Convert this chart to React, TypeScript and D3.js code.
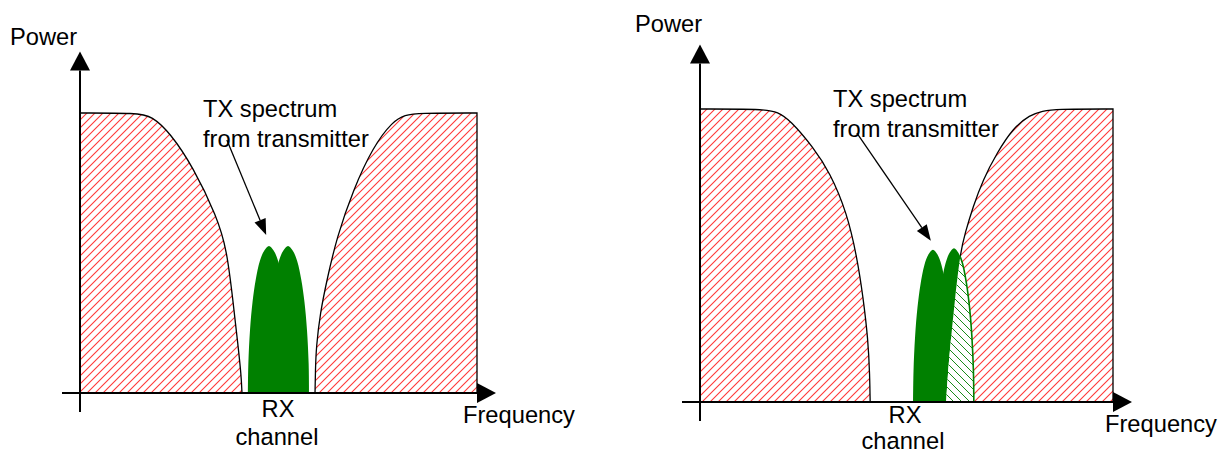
import React from "react";
import * as d3 from "d3";

type Pt = [number, number]; // [frequency, power], both 0..100 inside a panel

const W = 1223;
const H = 453;
const FONT = "'Liberation Sans', Arial, sans-serif";

// lobe outline, as fraction of half width / fraction of peak height
const lobeShape: Pt[] = [
  [-1, 0], [-0.98, 0.2], [-0.9, 0.43], [-0.78, 0.62], [-0.63, 0.77], [-0.43, 0.9],
  [-0.22, 0.97], [0, 1], [0.22, 0.97], [0.43, 0.9], [0.63, 0.77], [0.78, 0.62],
  [0.9, 0.43], [0.98, 0.2], [1, 0],
];

// left picture: TX spectrum sits in the gap of the mask
const leftMaskLow: Pt[] = [
  [0, 100], [14.4, 100], [18.1, 98.9], [22.7, 92.9], [28.5, 80.7],
  [34.5, 62.9], [37.0, 51.1], [38.5, 33.2], [39.8, 17.1], [40.6, 6.4], [40.8, 0],
];
const leftMaskHigh: Pt[] = [
  [59.2, 0], [59.3, 8.2], [59.5, 16.4], [60.5, 28.6], [62.2, 40.4], [64.7, 55.7],
  [68.8, 72.5], [73.8, 87.9], [78.8, 97.1], [81.9, 99.3], [85.1, 100], [100, 100],
];
const leftLobeCenters = [47.6, 52.4];
const leftLobeHeights = [52.5, 52.5];
const leftLobeHalfWidth = 5.3;

// right picture: second lobe runs into the upper mask
const rightMaskLow: Pt[] = [
  [0, 100], [15.3, 100], [18.9, 99.0], [21.8, 96.2], [27.4, 87.0],
  [31.5, 78.2], [35.6, 64.5], [38.0, 49.5], [39.5, 35.8], [40.7, 21.2], [41.1, 9.2], [41.2, 0],
];
const rightMaskHigh: Pt[] = [
  [59.6, 0], [60.0, 9.2], [60.5, 17.7], [61.7, 34.8], [63.0, 50.9], [64.2, 57.7],
  [66.1, 66.6], [68.5, 75.8], [71.9, 85.0], [75.8, 93.5], [79.9, 98.0], [83.0, 99.3],
  [85.9, 100], [100, 100],
];
const rightLobeCenters = [56.4, 61.5];
const rightLobeHeights = [52, 52.5];
const rightLobeHalfWidth = 4.8;

interface Label { text: string; dx: number; dy: number; anchor?: string }

interface PanelProps {
  id: string;
  x0: number; x1: number; y0: number; y1: number;
  maskLow: Pt[]; maskHigh: Pt[];
  lobeCenters: number[]; lobeHeights: number[]; lobeHalfWidth: number;
  overlap: boolean;
  callout: [Pt, Pt];
  labels: Label[];
}

const Panel: React.FC<PanelProps> = (p) => {
  const x = d3.scaleLinear().domain([0, 100]).range([p.x0, p.x1]);
  const y = d3.scaleLinear().domain([0, 100]).range([p.y0, p.y1]);
  const maskLine = d3.line<Pt>().x((d) => x(d[0])).y((d) => y(d[1])).curve(d3.curveBasis);
  const line = d3.line<Pt>().x((d) => x(d[0])).y((d) => y(d[1])).curve(d3.curveCatmullRom.alpha(0.5));

  const lowLine = maskLine(p.maskLow) || "";
  const lowArea = `${lowLine}L${x(0)},${y(0)}Z`;
  const highLine = maskLine(p.maskHigh) || "";
  const highArea = `${highLine}L${x(100)},${y(0)}Z`;
  const highOutline = `${highLine}L${x(100)},${y(0)}`;

  const lobes = p.lobeCenters.map((c, i) =>
    lobeShape.map(([u, v]) => [c + u * p.lobeHalfWidth, v * p.lobeHeights[i]] as Pt)
  );
  const lobePaths = lobes.map((pts) => `${line(pts)}Z`);

  // axes
  const ax = x(0);
  const ay = y(0);
  const yTip = y(122);
  const xBase = x(100);
  const head = 19;
  const half = 10;

  // callout arrow
  const [s, e] = p.callout;
  const sx = x(s[0]), sy = y(s[1]), ex = x(e[0]), ey = y(e[1]);
  const ang = Math.atan2(ey - sy, ex - sx);
  const hl = 16, hw = 6;
  const bx = ex - hl * Math.cos(ang), by = ey - hl * Math.sin(ang);
  const nx = -Math.sin(ang) * hw, ny = Math.cos(ang) * hw;

  return (
    <g>
      <defs>
        <clipPath id={`${p.id}-hi`}>
          <path d={highArea} />
        </clipPath>
      </defs>

      <path d={lowArea} style={{ fill: "url(#hatchR)" }} />
      <path d={highArea} style={{ fill: "url(#hatchR)" }} />
      <path d={lowLine} fill="none" stroke="#000" strokeWidth={1.3} />
      <path d={highOutline} fill="none" stroke="#000" strokeWidth={1.3} />

      {lobePaths.map((d, i) => (
        <path key={i} d={d} fill="#008000" />
      ))}

      {p.overlap && (
        <g clipPath={`url(#${p.id}-hi)`}>
          {lobePaths.map((d, i) => (
            <path key={`w${i}`} d={d} fill="#fff" />
          ))}
          {lobePaths.map((d, i) => (
            <path key={`h${i}`} d={d} style={{ fill: "url(#hatchG)" }} />
          ))}
          <path d={line(lobes[lobes.length - 1]) || ""} fill="none" stroke="#008000" strokeWidth={1.6} />
        </g>
      )}

      {/* axes */}
      <line x1={ax} y1={ay + 19} x2={ax} y2={yTip + head} stroke="#000" strokeWidth={2} />
      <path d={`M${ax},${yTip}L${ax - half},${yTip + head}L${ax + half},${yTip + head}Z`} fill="#000" />
      <line x1={ax - 18} y1={ay} x2={xBase} y2={ay} stroke="#000" strokeWidth={2} />
      <path d={`M${xBase + head},${ay}L${xBase},${ay - half}L${xBase},${ay + half}Z`} fill="#000" />

      {/* callout */}
      <line x1={sx} y1={sy} x2={bx} y2={by} stroke="#000" strokeWidth={1.3} />
      <path d={`M${ex},${ey}L${bx + nx},${by + ny}L${bx - nx},${by - ny}Z`} fill="#000" />

      {p.labels.map((l, i) => (
        <text
          key={i}
          x={ax + l.dx}
          y={ay + l.dy}
          textAnchor={l.anchor || "start"}
          fontFamily={FONT}
          fontSize={23.7}
          fill="#000"
        >
          {l.text}
        </text>
      ))}
    </g>
  );
};

export default function App() {
  return (
    <div style={{ position: "absolute", left: 0, top: 0 }}>
      <svg width={W} height={H} style={{ display: "block", background: "#fff" }}>
        <defs>
          <pattern id="hatchR" patternUnits="userSpaceOnUse" width={8} height={8}>
            <path d="M-2,2L2,-2M0,8L8,0M6,10L10,6" style={{ stroke: "#ff3838", strokeWidth: 1.1, fill: "none" }} />
          </pattern>
          <pattern id="hatchG" patternUnits="userSpaceOnUse" width={8} height={8}>
            <path d="M-2,6L2,10M0,0L8,8M6,-2L10,2" style={{ stroke: "#1a8a1a", strokeWidth: 1, fill: "none" }} />
          </pattern>
        </defs>

        <Panel
          id="left"
          x0={80} x1={477} y0={393} y1={113}
          maskLow={leftMaskLow}
          maskHigh={leftMaskHigh}
          lobeCenters={leftLobeCenters}
          lobeHeights={leftLobeHeights}
          lobeHalfWidth={leftLobeHalfWidth}
          overlap={false}
          callout={[[37.0, 90.4], [46.9, 56.4]]}
          labels={[
            { text: "Power", dx: -70, dy: -348 },
            { text: "TX spectrum", dx: 123, dy: -276 },
            { text: "from transmitter", dx: 123, dy: -246 },
            { text: "RX", dx: 198, dy: 24, anchor: "middle" },
            { text: "channel", dx: 197, dy: 52, anchor: "middle" },
            { text: "Frequency", dx: 383, dy: 30 },
          ]}
        />

        <Panel
          id="right"
          x0={700} x1={1113} y0={402} y1={109}
          maskLow={rightMaskLow}
          maskHigh={rightMaskHigh}
          lobeCenters={rightLobeCenters}
          lobeHeights={rightLobeHeights}
          lobeHalfWidth={rightLobeHalfWidth}
          overlap={true}
          callout={[[38.0, 91.8], [55.9, 55.0]]}
          labels={[
            { text: "Power", dx: -65, dy: -370 },
            { text: "TX spectrum", dx: 133, dy: -295 },
            { text: "from transmitter", dx: 133, dy: -265 },
            { text: "RX", dx: 205, dy: 21, anchor: "middle" },
            { text: "channel", dx: 203, dy: 47, anchor: "middle" },
            { text: "Frequency", dx: 405, dy: 30 },
          ]}
        />
      </svg>
    </div>
  );
}
